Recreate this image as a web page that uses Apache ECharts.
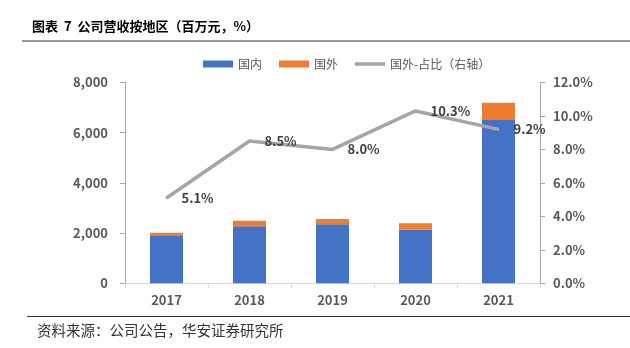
<!DOCTYPE html>
<html><head><meta charset="utf-8">
<script src="https://cdn.jsdelivr.net/npm/echarts@6/dist/echarts.min.js"></script>
<style>html,body{margin:0;padding:0;background:#fff}#c{width:630px;height:348px}</style>
</head><body><div id="c"></div>
<script>
const categories = ['2017','2018','2019','2020','2021'];
const domestic = [1912, 2271, 2351, 2135, 6534];
const overseas = [104, 223, 211, 255, 661];
const overseasShare = [5.1, 8.5, 8.0, 10.3, 9.2];
const leftTicks = {min: 0, max: 8000, interval: 2000};
const rightTicks = {min: 0, max: 12, interval: 2};

const chart = echarts.init(document.getElementById('c'), null, {renderer: 'canvas'});
const font = '"Noto Sans CJK SC", "Noto Sans", sans-serif';
chart.setOption({
  animation: false,
  backgroundColor: '#fff',
  textStyle: {fontFamily: font},
  graphic: [
    {type: 'text', left: 32, top: 20, style: {text: '图表  7  公司营收按地区（百万元，%）', font: 'bold 13px ' + font, fill: '#000'}},
    {type: 'rect', shape: {x: 22, y: 40, width: 608, height: 2}, style: {fill: '#999'}},
    {type: 'rect', shape: {x: 27, y: 316, width: 603, height: 1}, style: {fill: '#333'}},
    {type: 'text', left: 37, top: 323, style: {text: '资料来源：公司公告，华安证券研究所', font: '14.5px ' + font, fill: '#333'}}
  ],
  legend: {
    top: 58, left: 203, padding: 0,
    itemWidth: 30, itemHeight: 7, itemGap: 17,
    textStyle: {fontSize: 12, color: '#595959', fontFamily: font},
    data: [
      {name: '国内', icon: 'rect'},
      {name: '国外', icon: 'rect'},
      {name: '国外-占比（右轴）', icon: 'path://M0,0h30v3.5h-30z', itemStyle: {color: '#A5A5A5', opacity: 1}}
    ]
  },
  grid: {left: 125, right: 90, top: 82.5, bottom: 64.7, containLabel: false},
  xAxis: {
    type: 'category', data: categories,
    axisLine: {lineStyle: {color: '#D9D9D9'}},
    axisTick: {show: true, alignWithLabel: false, length: 5, lineStyle: {color: '#D9D9D9'}},
    axisLabel: {fontSize: 13, fontWeight: 'bold', color: '#595959', margin: 10, fontFamily: font}
  },
  yAxis: [
    {
      type: 'value', min: leftTicks.min, max: leftTicks.max, interval: leftTicks.interval,
      axisLine: {show: true, lineStyle: {color: '#A6A6A6'}},
      axisTick: {show: true, length: 5, lineStyle: {color: '#A6A6A6'}},
      splitLine: {show: false},
      axisLabel: {fontSize: 13, fontWeight: 'bold', color: '#595959', margin: 17, fontFamily: font,
        formatter: v => v.toLocaleString('en-US')}
    },
    {
      type: 'value', min: rightTicks.min, max: rightTicks.max, interval: rightTicks.interval,
      axisLine: {show: true, lineStyle: {color: '#A6A6A6'}},
      axisTick: {show: true, length: 5, lineStyle: {color: '#A6A6A6'}},
      splitLine: {show: false},
      axisLabel: {fontSize: 13, fontWeight: 'bold', color: '#595959', margin: 13, fontFamily: font,
        formatter: v => v.toFixed(1) + '%'}
    }
  ],
  series: [
    {name: '国内', type: 'bar', stack: 'a', data: domestic, barWidth: 33, itemStyle: {color: '#4472C4'}},
    {name: '国外', type: 'bar', stack: 'a', data: overseas, barWidth: 33, itemStyle: {color: '#ED7D31'}},
    {name: '国外-占比（右轴）', type: 'line', yAxisIndex: 1, data: overseasShare,
      symbol: 'circle', symbolSize: 2, showSymbol: true,
      lineStyle: {color: '#A5A5A5', width: 3.5}, itemStyle: {color: '#A5A5A5'},
      label: {show: true, position: 'right', distance: 14, fontSize: 13, fontWeight: 'bold', color: '#404040',
        fontFamily: font, formatter: p => p.value.toFixed(1) + '%'}}
  ]
});
</script></body></html>
